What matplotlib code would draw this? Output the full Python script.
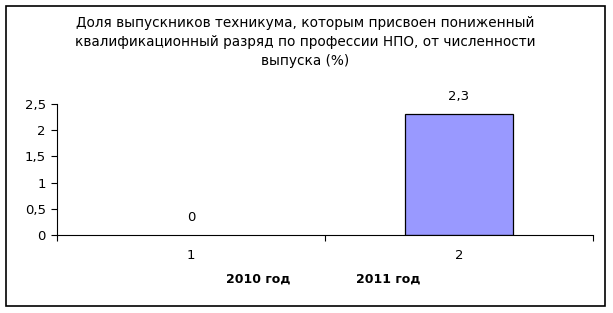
import matplotlib
matplotlib.use("Agg")
import matplotlib.pyplot as plt
from matplotlib.patches import Rectangle

categories = ["1", "2"]
values = [0, 2.3]
value_labels = ["0", "2,3"]
yticks = [0, 0.5, 1, 1.5, 2, 2.5]
ytick_labels = ["0", "0,5", "1", "1,5", "2", "2,5"]
year_labels = ["2010 год", "2011 год"]
title = ("Доля выпускников техникума, которым присвоен пониженный\n"
         "квалификационный разряд по профессии НПО, от численности\n"
         "выпуска (%)")

W, H = 613, 313
fig = plt.figure(figsize=(W / 100, H / 100), dpi=100)
plt.rcParams['font.family'] = ['DejaVu Sans']

# outer border
fig.patches.append(Rectangle((6 / W, 1 - 306 / H), 599 / W, 300 / H,
                             transform=fig.transFigure, fill=False,
                             edgecolor="black", linewidth=1.2))

ax_l, ax_r, ax_t, ax_b = 57, 593, 104, 235
ax = fig.add_axes([ax_l / W, 1 - ax_b / H, (ax_r - ax_l) / W, (ax_b - ax_t) / H])
x = list(range(len(categories)))
bars = ax.bar(x, values, width=0.4, color="#9999FF", edgecolor="black", linewidth=0.9)
for b, v in zip(bars, values):
    if v == 0:
        b.set_visible(False)
ax.set_xlim(-0.5, 1.5)
ax.set_ylim(0, 2.5)
ax.set_yticks(yticks)
ax.set_yticklabels(ytick_labels, fontsize=9.5)
ax.set_xticks([-0.5, 0.5, 1.5])
ax.set_xticklabels([])
ax.set_xticks(x, minor=True)
ax.set_xticklabels(categories, minor=True, fontsize=9.5)
ax.tick_params(axis="x", which="minor", length=0, pad=10)
ax.tick_params(axis="x", which="major", length=4, direction="out")
ax.tick_params(axis="y", length=4, direction="out", pad=4)
for s in ["top", "right"]:
    ax.spines[s].set_visible(False)
for xi, v, lab in zip(x, values, value_labels):
    ax.annotate(lab, (xi, v), xytext=(0, 8), textcoords="offset points",
                ha="center", va="bottom", fontsize=9.5)

fig.text(305 / W, 1 - 42 / H, title, ha="center", va="center", fontsize=9.8,
         linespacing=1.45)
fig.text(258 / W, 1 - 279 / H, year_labels[0], ha="center", va="center",
         fontsize=9, fontweight="bold")
fig.text(388 / W, 1 - 279 / H, year_labels[1], ha="center", va="center",
         fontsize=9, fontweight="bold")

fig.savefig("out.png", dpi=100)
